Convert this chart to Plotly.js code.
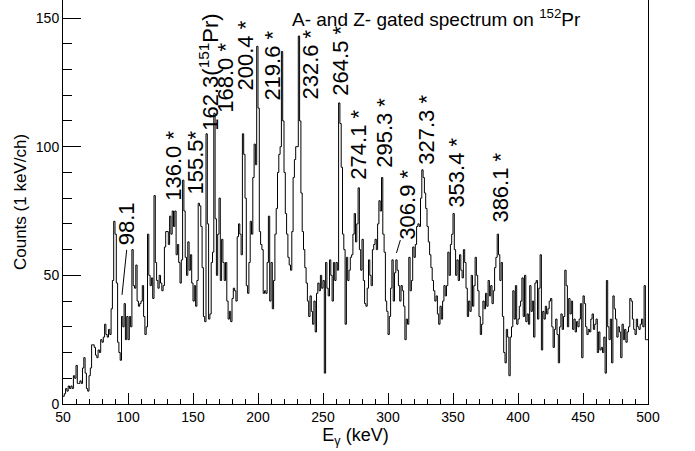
<!DOCTYPE html>
<html>
<head>
<meta charset="utf-8">
<script src="https://cdn.plot.ly/plotly-3.0.1.min.js"></script>
<style>html,body{margin:0;padding:0;background:#fff;}#chart{width:695px;height:451px;}</style>
</head>
<body>
<div id="chart"></div>
<script>
// Histogram: 1 keV per channel, channels starting at 50 keV
var binStart = 50;
var binWidth = 1;

var counts050to149 = [
  3, 4, 6, 5, 7, 6, 7, 6, 11, 10,
  15, 8, 8, 9, 8, 14, 18, 12, 6, 5,
  11, 14, 23, 23, 22, 19, 18, 21, 20, 25,
  24, 26, 31, 27, 26, 29, 27, 37, 48, 71,
  66, 47, 24, 20, 17, 34, 30, 39, 25, 34,
  25, 34, 30, 60, 46, 45, 54, 40, 38, 39,
  40, 46, 34, 27, 30, 66, 50, 46, 49, 41,
  81, 55, 48, 45, 50, 47, 44, 46, 61, 67,
  67, 62, 73, 66, 75, 69, 75, 58, 62, 55,
  47, 56, 87, 75, 57, 50, 63, 52, 58, 47
];
var counts150to249 = [
  40, 46, 38, 48, 78, 77, 69, 53, 34, 32,
  105, 70, 33, 35, 55, 59, 113, 72, 50, 66,
  80, 48, 64, 55, 48, 55, 40, 33, 36, 32,
  41, 45, 44, 40, 65, 70, 66, 58, 105, 97,
  80, 46, 43, 55, 71, 66, 88, 101, 93, 139,
  115, 67, 62, 60, 43, 44, 43, 55, 73, 40,
  55, 37, 48, 66, 76, 90, 97, 100, 137, 110,
  90, 74, 66, 57, 54, 52, 67, 88, 95, 100,
  100, 143, 110, 82, 67, 60, 53, 47, 40, 34,
  42, 36, 31, 40, 28, 43, 47, 44, 50, 45
];
var counts250to349 = [
  48, 12, 55, 45, 42, 56, 50, 40, 55, 48,
  55, 52, 117, 109, 92, 66, 60, 31, 57, 48,
  52, 57, 58, 66, 74, 63, 70, 84, 60, 52,
  64, 48, 39, 38, 45, 56, 50, 46, 60, 62,
  64, 60, 70, 79, 75, 88, 66, 59, 40, 36,
  27, 34, 45, 56, 40, 51, 56, 52, 46, 40,
  46, 44, 38, 25, 33, 31, 57, 44, 48, 61,
  57, 62, 69, 70, 69, 80, 91, 88, 82, 76,
  69, 63, 58, 53, 48, 44, 40, 42, 35, 31,
  38, 33, 40, 46, 42, 46, 59, 50, 62, 66
];
var counts350to449 = [
  74, 60, 50, 56, 48, 58, 52, 49, 60, 55,
  45, 34, 40, 36, 50, 38, 46, 57, 50, 44,
  34, 27, 31, 40, 37, 43, 38, 48, 42, 46,
  39, 44, 53, 57, 66, 58, 48, 55, 34, 20,
  16, 29, 26, 11, 26, 30, 44, 33, 46, 31,
  33, 38, 40, 49, 34, 50, 32, 35, 31, 46,
  36, 40, 26, 47, 48, 33, 45, 58, 21, 36,
  33, 38, 35, 37, 40, 41, 30, 22, 29, 33,
  27, 16, 30, 35, 29, 34, 52, 46, 30, 41,
  35, 40, 29, 33, 28, 32, 30, 33, 39, 18
];
var counts450to499 = [
  42, 39, 30, 27, 29, 28, 33, 35, 29, 31,
  33, 20, 28, 21, 22, 20, 26, 12, 48, 30,
  25, 33, 16, 42, 37, 33, 26, 30, 28, 18,
  31, 25, 29, 24, 28, 30, 41, 40, 33, 29,
  27, 33, 30, 29, 31, 33, 30, 46, 25, 25
];

// Peak labels
var peakLabels = ['98.1', '136.0 *', '155.5*', '162.3(<sup>151</sup>Pr)', '168.0 *', '200.4 *', '219.6 *',
  '232.6 *', '264.5 *', '274.1 *', '295.3 *', '306.9 *', '327.3 *', '353.4 *', '386.1 *'];

var xTickVals = [50, 100, 150, 200, 250, 300, 350, 400, 450, 500];
var yTickVals = [0, 50, 100, 150];

// label placement (keV, counts at the label's lower end)
var labelX = [99.0, 134.4, 152.1, 161.7, 174.4, 190.5, 211.3, 240.5, 262.8, 277.5, 296.7, 315.2, 329.0, 352.8, 386.7];
var labelY = [61.0, 78.1, 80.5, 105.3, 112.3, 120.9, 117.0, 117.4, 118.9, 86.3, 90.9, 63.0, 92.1, 75.4, 69.6];
// leader lines [x0, y0, x1, y1]
var leaders = [[99.0, 59.9, 95.4, 42.4], [309.5, 63.7, 306.5, 58.7]];

var counts = [].concat(counts050to149, counts150to249, counts250to349, counts350to449, counts450to499);
var xs = counts.map(function (_, i) { return binStart + i * binWidth; });
var ys = counts.slice();
xs.push(binStart + counts.length * binWidth);
ys.push(counts[counts.length - 1]);

var FONT = 'Liberation Sans, Arial, Helvetica, sans-serif';

var annotations = peakLabels.map(function (t, i) {
  return {
    text: t, x: labelX[i], y: labelY[i], xref: 'x', yref: 'y',
    textangle: -90, xanchor: 'center', yanchor: 'bottom', showarrow: false,
    font: {family: FONT, size: 22, color: '#000'}
  };
});

var shapes = leaders.map(function (l) {
  return {type: 'line', xref: 'x', yref: 'y', x0: l[0], y0: l[1], x1: l[2], y1: l[3],
          line: {color: '#000', width: 1}};
});

var trace = {
  x: xs, y: ys, type: 'scatter', mode: 'lines',
  line: {shape: 'hv', color: '#000', width: 1},
  hoverinfo: 'skip'
};

var layout = {
  width: 695, height: 451,
  margin: {l: 63, r: 47, t: 0, b: 47, pad: 0},
  paper_bgcolor: '#fff', plot_bgcolor: '#fff',
  showlegend: false,
  font: {family: FONT, color: '#000'},
  title: {
    text: 'A- and Z- gated spectrum on <sup>152</sup>Pr',
    x: 292 / 695, xanchor: 'left', xref: 'container',
    y: 1 - 19 / 451, yanchor: 'middle', yref: 'container',
    font: {family: FONT, size: 19, color: '#000'}
  },
  xaxis: {
    range: [50, 500], tickmode: 'array', tickvals: xTickVals,
    ticks: 'inside', ticklen: 11, tickwidth: 1, tickcolor: '#000',
    minor: {ticks: 'inside', ticklen: 5, tickwidth: 1, tickcolor: '#000', dtick: 10, tick0: 50, showgrid: false},
    showline: true, linecolor: '#000', linewidth: 1, mirror: false,
    showgrid: false, zeroline: false,
    tickfont: {family: FONT, size: 14, color: '#000'},
    title: {text: 'E<sub>γ</sub> (keV)', font: {family: FONT, size: 18, color: '#000'}, standoff: 0},
    automargin: false
  },
  yaxis: {
    range: [0, 157], tickmode: 'array', tickvals: yTickVals,
    ticks: 'inside', ticklen: 18, tickwidth: 1, tickcolor: '#000',
    minor: {ticks: 'inside', ticklen: 9, tickwidth: 1, tickcolor: '#000', dtick: 10, tick0: 0, showgrid: false},
    showline: true, linecolor: '#000', linewidth: 1, mirror: true,
    showgrid: false, zeroline: false,
    tickfont: {family: FONT, size: 14, color: '#000'},
    title: {text: 'Counts (1 keV/ch)', font: {family: FONT, size: 17, color: '#000'}, standoff: 4},
    automargin: false
  },
  annotations: annotations,
  shapes: shapes
};

Plotly.newPlot('chart', [trace], layout, {staticPlot: true, displayModeBar: false});
</script>
</body>
</html>
